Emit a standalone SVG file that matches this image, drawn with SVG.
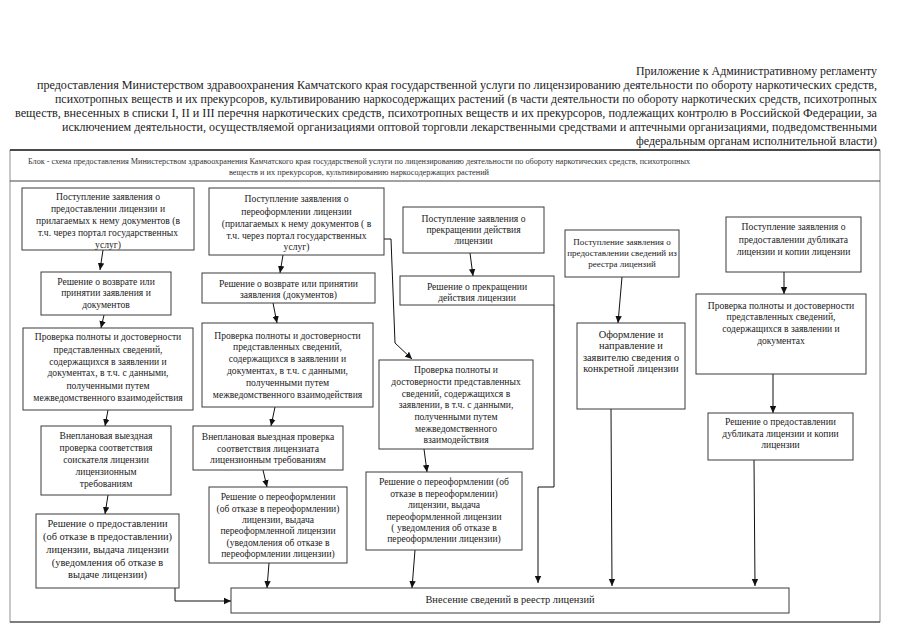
<svg xmlns="http://www.w3.org/2000/svg" width="905" height="640" viewBox="0 0 905 640">
<defs>
<marker id="ah" markerUnits="userSpaceOnUse" markerWidth="8" markerHeight="8" refX="7" refY="4" orient="auto">
<path d="M0,0.8 L7,4 L0,7.2 Z" fill="#111"/>
</marker>
</defs>
<style>
.hd{font-family:"Liberation Serif","Times New Roman",serif;font-size:11.6px;fill:#222}
.tt{font-family:"Liberation Serif","Times New Roman",serif;font-size:8.3px;fill:#333}
.bx{fill:#fff;stroke:#3a3a3a;stroke-width:1}
.t{font-family:"Liberation Serif","Times New Roman",serif;font-size:9.6px;fill:#222;text-anchor:middle}
.ts{font-family:"Liberation Serif","Times New Roman",serif;font-size:9px;fill:#222;text-anchor:middle}
.tl{font-family:"Liberation Serif","Times New Roman",serif;font-size:10.4px;fill:#222;text-anchor:middle}
.c{fill:none;stroke:#111;stroke-width:1}
</style>
<rect width="905" height="640" fill="#fff"/>
<g id="header">
<text class="hd" x="636" y="75" textLength="241" lengthAdjust="spacingAndGlyphs">Приложение к Административному регламенту</text>
<text class="hd" x="37" y="89" textLength="840" lengthAdjust="spacingAndGlyphs">предоставления Министерством здравоохранения Камчатского края государственной услуги по лицензированию деятельности по обороту наркотических средств,</text>
<text class="hd" x="55" y="103" textLength="822" lengthAdjust="spacingAndGlyphs">психотропных веществ и их прекурсоров, культивированию наркосодержащих растений (в части деятельности по обороту наркотических средств, психотропных</text>
<text class="hd" x="15" y="117" textLength="862" lengthAdjust="spacingAndGlyphs">веществ, внесенных в списки I, II и III перечня наркотических средств, психотропных веществ и их прекурсоров, подлежащих контролю в Российской Федерации, за</text>
<text class="hd" x="62" y="131" textLength="815" lengthAdjust="spacingAndGlyphs">исключением деятельности, осуществляемой организациями оптовой торговли лекарственными средствами и аптечными организациями, подведомственными</text>
<text class="hd" x="636" y="145" textLength="241" lengthAdjust="spacingAndGlyphs">федеральным органам исполнительной власти)</text>
</g>
<g id="frame">
<rect x="10" y="150" width="870" height="472" fill="none" stroke="#777" stroke-width="0.8"/>
<line x1="10" y1="150" x2="880" y2="150" stroke="#222" stroke-width="1.4"/>
<line x1="10" y1="181" x2="880" y2="181" stroke="#444" stroke-width="1"/>
<line x1="10" y1="622" x2="880" y2="622" stroke="#333" stroke-width="1.2"/>
<text class="tt" x="28" y="164" textLength="662" lengthAdjust="spacingAndGlyphs">Блок - схема предоставления Министерством здравоохранения Камчатского края государственой услуги по лицензированию деятельности по обороту наркотических средств, психотропных</text>
<text class="tt" x="359" y="175" text-anchor="middle">веществ и их прекурсоров, культивированию наркосодержащих растений</text>
</g>
<g id="connectors">
<line class="c" x1="103" y1="250" x2="100" y2="270" marker-end="url(#ah)"/>
<line class="c" x1="104" y1="315" x2="101" y2="328" marker-end="url(#ah)"/>
<line class="c" x1="108" y1="410" x2="105" y2="426" marker-end="url(#ah)"/>
<line class="c" x1="108" y1="495" x2="105" y2="514" marker-end="url(#ah)"/>
<path class="c" d="M175,588 V601 H231" marker-end="url(#ah)"/>
<line class="c" x1="283" y1="255" x2="280" y2="273" marker-end="url(#ah)"/>
<line class="c" x1="273" y1="303" x2="277" y2="323" marker-end="url(#ah)"/>
<line class="c" x1="275" y1="407" x2="271" y2="426" marker-end="url(#ah)"/>
<line class="c" x1="263" y1="470" x2="267" y2="487" marker-end="url(#ah)"/>
<line class="c" x1="269" y1="563" x2="267" y2="588" marker-end="url(#ah)"/>
<path class="c" d="M384,239 H391 L395,343 L412,359" marker-end="url(#ah)"/>
<line class="c" x1="470" y1="253" x2="473" y2="276" marker-end="url(#ah)"/>
<path class="c" d="M554,305 V487 H538 V583" marker-end="url(#ah)"/>
<line class="c" x1="424" y1="449" x2="427" y2="472" marker-end="url(#ah)"/>
<line class="c" x1="415" y1="550" x2="412" y2="588" marker-end="url(#ah)"/>
<line class="c" x1="622" y1="277" x2="618" y2="323" marker-end="url(#ah)"/>
<line class="c" x1="611" y1="409" x2="612" y2="586" marker-end="url(#ah)"/>
<line class="c" x1="784" y1="272" x2="784" y2="294" marker-end="url(#ah)"/>
<line class="c" x1="773" y1="374" x2="773" y2="413" marker-end="url(#ah)"/>
<line class="c" x1="754" y1="460" x2="755" y2="586" marker-end="url(#ah)"/>
</g>
<g id="b1">
<rect class="bx" x="22" y="188" width="172" height="62"/>
<text class="t"><tspan x="108" y="200">Поступление заявления о</tspan><tspan x="108" y="212">предоставлении лицензии и</tspan><tspan x="108" y="224">прилагаемых к нему документов (в</tspan><tspan x="108" y="236">т.ч. через портал государственных</tspan><tspan x="108" y="247.5">услуг)</tspan></text>
</g>
<g id="b2">
<rect class="bx" x="41" y="272" width="130" height="43"/>
<text class="t"><tspan x="106" y="285">Решение о возврате или</tspan><tspan x="106" y="296">принятии заявления и</tspan><tspan x="106" y="307.5">документов</tspan></text>
</g>
<g id="b3">
<rect class="bx" x="23" y="328" width="170" height="82"/>
<text class="t"><tspan x="108" y="340">Проверка полноты и достоверности</tspan><tspan x="108" y="352.5">представленных сведений,</tspan><tspan x="108" y="364.5">содержащихся в заявлении и</tspan><tspan x="108" y="376">документах, в т.ч. с данными,</tspan><tspan x="108" y="388.5">полученными путем</tspan><tspan x="108" y="400.5">межведомственного взаимодействия</tspan></text>
</g>
<g id="b4">
<rect class="bx" x="41" y="426" width="130" height="69"/>
<text class="t"><tspan x="106" y="439">Внеплановая выездная</tspan><tspan x="106" y="451">проверка соответствия</tspan><tspan x="106" y="463">соискателя лицензии</tspan><tspan x="106" y="475">лицензионным</tspan><tspan x="106" y="487">требованиям</tspan></text>
</g>
<g id="b5">
<rect class="bx" x="36" y="514" width="143" height="74"/>
<text class="tl"><tspan x="107.5" y="527">Решение о предоставлении</tspan><tspan x="107.5" y="540">(об отказе в предоставлении)</tspan><tspan x="107.5" y="553">лицензии, выдача лицензии</tspan><tspan x="107.5" y="565.5">(уведомления об отказе в</tspan><tspan x="107.5" y="578">выдаче лицензии)</tspan></text>
</g>
<g id="c1">
<rect class="bx" x="209" y="188" width="175" height="67"/>
<text class="t"><tspan x="296.5" y="202">Поступление заявления о</tspan><tspan x="296.5" y="214.5">переоформлении лицензии</tspan><tspan x="296.5" y="226.5">(прилагаемых к нему документов ( в</tspan><tspan x="296.5" y="238.5">т.ч. через портал государственных</tspan><tspan x="296.5" y="250">услуг)</tspan></text>
</g>
<g id="c2">
<rect class="bx" x="202" y="273" width="173" height="30"/>
<text class="t"><tspan x="288.5" y="286.5">Решение о возврате или принятии</tspan><tspan x="288.5" y="298">заявления (документов)</tspan></text>
</g>
<g id="c3">
<rect class="bx" x="202" y="323" width="171" height="84"/>
<text class="t"><tspan x="287.5" y="338.5">Проверка полноты и достоверности</tspan><tspan x="287.5" y="350">представленных сведений,</tspan><tspan x="287.5" y="361.5">содержащихся в заявлении и</tspan><tspan x="287.5" y="373.5">документах, в т.ч. с данными,</tspan><tspan x="287.5" y="386">полученными путем</tspan><tspan x="287.5" y="397.5">межведомственного взаимодействия</tspan></text>
</g>
<g id="c4">
<rect class="bx" x="193" y="426" width="150" height="44"/>
<text class="t"><tspan x="268" y="440">Внеплановая выездная проверка</tspan><tspan x="268" y="451.5">соответствия лицензиата</tspan><tspan x="268" y="463">лицензионным требованиям</tspan></text>
</g>
<g id="c5">
<rect class="bx" x="209" y="487" width="138" height="76"/>
<text class="t"><tspan x="278" y="500">Решение о переоформлении</tspan><tspan x="278" y="511.5">(об отказе в переоформлении)</tspan><tspan x="278" y="523">лицензии, выдача</tspan><tspan x="278" y="534">переоформленной лицензии</tspan><tspan x="278" y="546">(уведомления об отказе в</tspan><tspan x="278" y="557">переоформлении лицензии)</tspan></text>
</g>
<g id="d1">
<rect class="bx" x="403" y="207" width="141" height="46"/>
<text class="t"><tspan x="473.5" y="221.5">Поступление заявления о</tspan><tspan x="473.5" y="232.5">прекращении действия</tspan><tspan x="473.5" y="244">лицензии</tspan></text>
</g>
<g id="d2">
<rect class="bx" x="400" y="276" width="154" height="29"/>
<text class="t"><tspan x="477" y="289.5">Решение о прекращении</tspan><tspan x="477" y="300.5">действия лицензии</tspan></text>
</g>
<g id="d3">
<rect class="bx" x="379" y="360" width="154" height="89"/>
<text class="t"><tspan x="456" y="373">Проверка полноты и</tspan><tspan x="456" y="385">достоверности представленных</tspan><tspan x="456" y="396.5">сведений, содержащихся в</tspan><tspan x="456" y="408">заявлении, в т.ч. с данными,</tspan><tspan x="456" y="420">полученными путем</tspan><tspan x="456" y="432">межведомственного</tspan><tspan x="456" y="443">взаимодействия</tspan></text>
</g>
<g id="d4">
<rect class="bx" x="366" y="472" width="156" height="78"/>
<text class="t"><tspan x="444" y="485">Решение о переоформлении (об</tspan><tspan x="444" y="497">отказе в переоформлении)</tspan><tspan x="444" y="508">лицензии, выдача</tspan><tspan x="444" y="519.5">переоформленной лицензии</tspan><tspan x="444" y="530.5">( уведомления об отказе в</tspan><tspan x="444" y="541.5">переоформлении лицензии)</tspan></text>
</g>
<g id="e1">
<rect class="bx" x="565" y="230" width="114" height="47"/>
<text class="ts"><tspan x="622" y="245">Поступление заявления о</tspan><tspan x="622" y="256">предоставлении сведений из</tspan><tspan x="622" y="267">реестра лицензий</tspan></text>
</g>
<g id="e2">
<rect class="bx" x="577" y="323" width="108" height="86"/>
<text class="tl"><tspan x="631" y="337.5">Оформление и</tspan><tspan x="631" y="349">направление и</tspan><tspan x="631" y="360.5">заявителю сведения о</tspan><tspan x="631" y="372">конкретной лицензии</tspan></text>
</g>
<g id="f1">
<rect class="bx" x="726" y="217" width="135" height="55"/>
<text class="t"><tspan x="793.5" y="230">Поступление заявления о</tspan><tspan x="793.5" y="242.5">предоставлении дубликата</tspan><tspan x="793.5" y="255">лицензии и копии лицензии</tspan></text>
</g>
<g id="f2">
<rect class="bx" x="696" y="294" width="170" height="80"/>
<text class="t"><tspan x="781" y="308.5">Проверка полноты и достоверности</tspan><tspan x="781" y="320">представленных сведений,</tspan><tspan x="781" y="331.5">содержащихся в заявлении и</tspan><tspan x="781" y="343.5">документах</tspan></text>
</g>
<g id="f3">
<rect class="bx" x="708" y="413" width="145" height="47"/>
<text class="t"><tspan x="780.5" y="425">Решение о предоставлении</tspan><tspan x="780.5" y="436.5">дубликата лицензии и копии</tspan><tspan x="780.5" y="448">лицензии</tspan></text>
</g>
<g id="final">
<rect class="bx" x="231" y="588" width="558" height="25"/>
<text class="tl" x="510" y="602.5">Внесение сведений в реестр лицензий</text>
</g>
</svg>
